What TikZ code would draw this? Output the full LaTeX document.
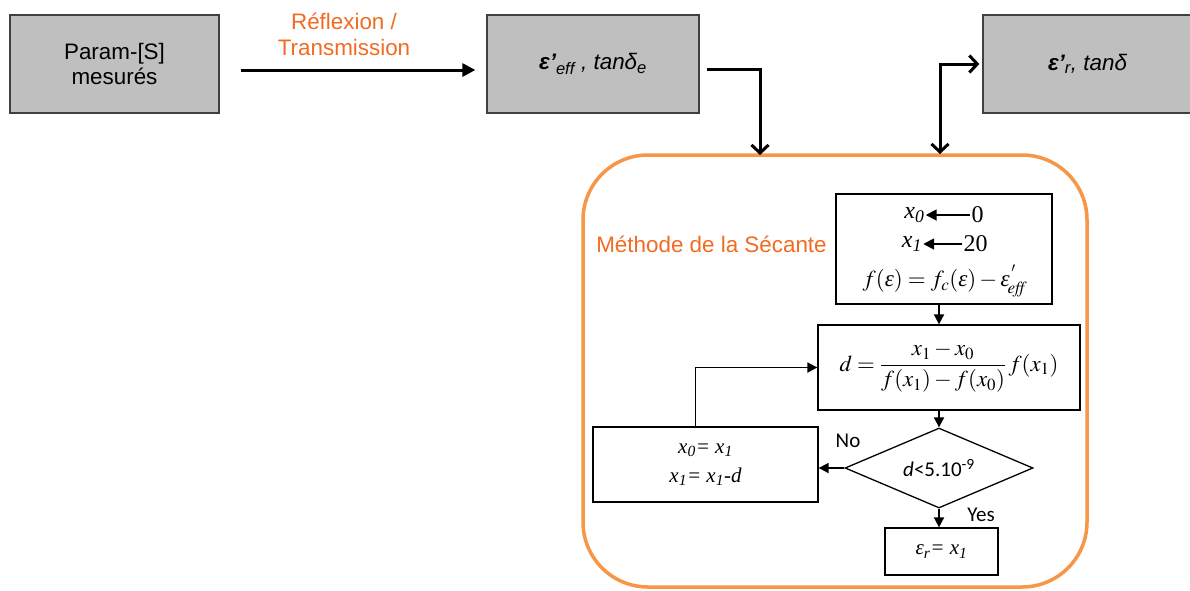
\documentclass[tikz,border=0pt]{standalone}
\usepackage{mathptmx}
\usepackage[no-math]{fontspec}
\setmainfont{Liberation Sans}
\newfontfamily\tnr{Liberation Serif}
\newfontfamily\cali{Carlito}
\usetikzlibrary{arrows.meta,shapes.geometric,calc}
\definecolor{orgline}{HTML}{F79646}
\definecolor{orgtext}{HTML}{F26B21}
\definecolor{grayfill}{HTML}{BFBFBF}
\newcommand{\sbs}[1]{\textsubscript{#1}}
\newcommand{\veps}{\mbox{\tnr\itshape ε}}
\begin{document}
\begin{tikzpicture}[x=1pt,y=-1pt,
  gbox/.style={draw=black!75,line width=1.3pt,fill=grayfill,inner sep=0pt,align=center,font=\fontsize{22.4}{25}\selectfont},
  fbox/.style={draw=black,line width=1.3pt,inner sep=0pt,align=center},
  lbl/.style={inner sep=1pt,align=center},
  bigarrow/.style={line width=3pt,-{Triangle[length=13pt,width=13pt]}},
  openarrow/.style={line width=3pt,-{Straight Barb[length=8pt,width=17pt]}},
  dblarrow/.style={line width=3pt,{Straight Barb[length=8pt,width=17pt]}-{Straight Barb[length=8pt,width=17pt]}},
  flowarrow/.style={line width=1.8pt,-{Triangle[length=10pt,width=10pt]}},
  smallarrow/.style={line width=1.8pt,-{Triangle[length=11pt,width=11pt]}}]
\useasboundingbox (0,0) rectangle (1190,590);
\fill[white] (0,0) rectangle (1190,590);

% top row
\node[gbox,minimum width=209pt,minimum height=98pt] (p1) at (114.5,64) {Param-[S]\\mesurés};
\node[gbox,minimum width=212pt,minimum height=98pt] (p2) at (593,64)
  {{\bfseries\itshape ε’}\sbs{\itshape eff}{\itshape\ , tanδ\sbs{e}}};
\node[gbox,minimum width=209pt,minimum height=98pt] (p3) at (1087.5,64)
  {{\bfseries\itshape ε'}\sbs{\itshape r}{\itshape , tanδ}};
\node[lbl,text=orgtext,font=\fontsize{22.4}{26}\selectfont] (lab) at (344,34) {Réflexion /\\Transmission};

\draw[bigarrow] ([xshift=21pt,yshift=-6pt]p1.east) -- ([xshift=-11pt,yshift=-6pt]p2.west);

% secant method frame
\node[draw=orgline,line width=3.5pt,rounded corners=65pt,minimum width=504pt,minimum height=432pt,inner sep=0pt] (sec) at (835,371) {};
\node[lbl,text=orgtext,font=\fontsize{22.4}{25}\selectfont] (meth) at (711.5,244) {Méthode de la Sécante};
\coordinate (inA) at (760,155);
\coordinate (inB) at (940,154);
\draw[openarrow] ([xshift=7pt,yshift=-5pt]p2.east) -| (inA);
\draw[dblarrow] (inB) |- ([xshift=-3pt]p3.west);

% flowchart
\node[fbox,minimum width=216pt,minimum height=110pt] (init) at (944,249) {};
\node[lbl,font=\tnr\itshape\fontsize{24}{26}\selectfont] (lx0) at (914.5,215) {x\sbs{0}};
\node[lbl,font=\tnr\fontsize{24}{26}\selectfont] (n0) at (977.5,215) {0};
\node[lbl,font=\tnr\itshape\fontsize{24}{26}\selectfont] (lx1) at (912,244) {x\sbs{1}};
\node[lbl,font=\tnr\fontsize{24}{26}\selectfont] (n20) at (975.5,244) {20};
\draw[smallarrow] (n0.west) -- (lx0.east);
\draw[smallarrow] (n20.west) -- (lx1.east);
\node[lbl,font=\fontsize{23}{26}\selectfont] (ff) at (945,281)
  {$f(\veps)=f_{c}(\veps)-\veps^{\,'}_{\!\mathit{eff}}$};

\node[fbox,minimum width=262pt,minimum height=85pt,font=\fontsize{22.8}{26}\selectfont] (dbox) at (949,367.5)
  {$\displaystyle d=\frac{x_1-x_0}{f(x_1)-f(x_0)}\,f(x_1)$};

\node[draw=black,line width=1.3pt,shape=diamond,aspect=2.35,minimum width=188pt,minimum height=80pt,inner sep=0pt,font=\cali\fontsize{21}{25}\selectfont] (dia) at (939,468)
  {{\itshape d}<5.10\textsuperscript{-9}};

\node[fbox,minimum width=113pt,minimum height=47pt,font=\tnr\itshape\fontsize{21}{24}\selectfont] (res) at (941.5,551.5)
  {ε\sbs{r}= x\sbs{1}};

\node[fbox,minimum width=225pt,minimum height=75pt,font=\tnr\itshape\fontsize{21}{29}\selectfont] (upd) at (705.5,464.5)
  {x\sbs{0}= x\sbs{1}\\x\sbs{1}= x\sbs{1}-d};

\node[lbl,font=\cali\fontsize{21}{25}\selectfont] (no) at (848,441) {No};
\node[lbl,font=\cali\fontsize{21}{25}\selectfont] (yes) at (981,515) {Yes};

\draw[flowarrow] (init.south -| dia.north) -- (dbox.north -| dia.north);
\draw[flowarrow] (dbox.south -| dia.north) -- (dia.north);
\draw[flowarrow] (dia.south) -- (res.north -| dia.south);
\draw[flowarrow] (dia.west) -- (dia.west -| upd.east);
\draw[flowarrow] ([xshift=-10pt]upd.north) |- (dbox.west);
\end{tikzpicture}
\end{document}
